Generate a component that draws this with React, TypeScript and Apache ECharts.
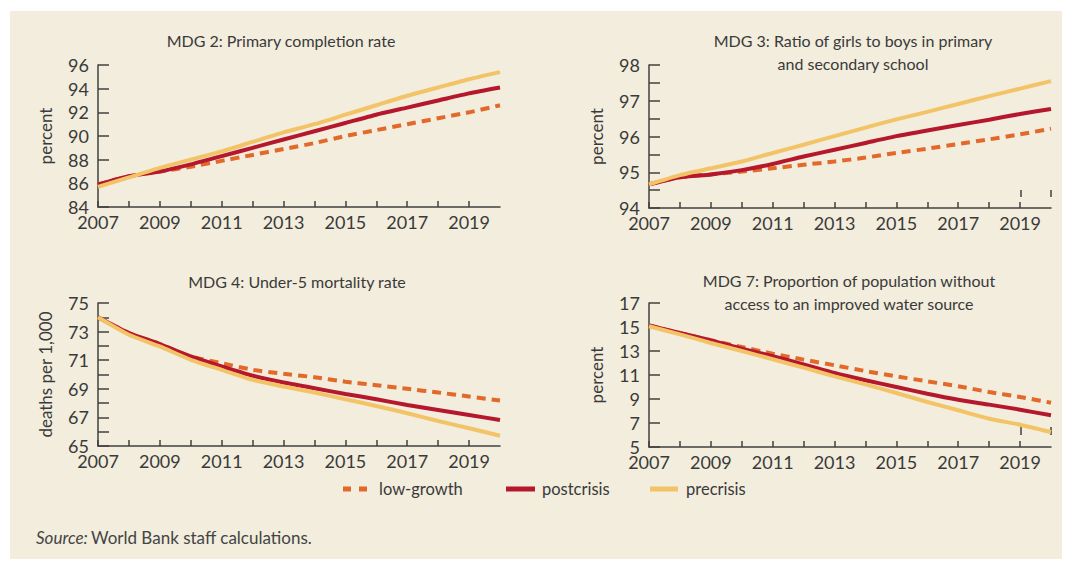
import React, { useEffect, useRef } from "react";
import * as echarts from "echarts";

const years = [2007, 2008, 2009, 2010, 2011, 2012, 2013, 2014, 2015, 2016, 2017, 2018, 2019, 2020];

const seriesNames = ["low-growth", "postcrisis", "precrisis"];

// MDG 2: Primary completion rate (percent)
const mdg2Low = [85.9, 86.6, 87.0, 87.4, 87.9, 88.4, 88.9, 89.4, 90.0, 90.5, 91.0, 91.5, 92.0, 92.6];
const mdg2Post = [85.9, 86.6, 87.0, 87.6, 88.3, 89.0, 89.7, 90.4, 91.1, 91.8, 92.4, 93.0, 93.6, 94.1];
const mdg2Pre = [85.7, 86.5, 87.3, 88.0, 88.7, 89.5, 90.3, 91.0, 91.8, 92.6, 93.4, 94.1, 94.8, 95.4];

// MDG 3: Ratio of girls to boys (percent)
const mdg3Low = [94.66, 94.86, 94.94, 95.02, 95.11, 95.21, 95.3, 95.41, 95.54, 95.66, 95.79, 95.92, 96.06, 96.22];
const mdg3Post = [94.66, 94.86, 94.94, 95.06, 95.23, 95.44, 95.63, 95.82, 96.01, 96.17, 96.32, 96.47, 96.63, 96.77];
const mdg3Pre = [94.66, 94.92, 95.11, 95.3, 95.54, 95.77, 96.01, 96.25, 96.48, 96.69, 96.91, 97.13, 97.34, 97.55];

// MDG 4: Under-5 mortality rate (deaths per 1,000)
const mdg4Low = [74.0, 72.9, 72.13, 71.26, 70.79, 70.33, 70.05, 69.81, 69.5, 69.25, 69.0, 68.74, 68.46, 68.18];
const mdg4Post = [74.0, 72.9, 72.13, 71.26, 70.56, 69.91, 69.44, 69.04, 68.64, 68.27, 67.87, 67.52, 67.17, 66.82];
const mdg4Pre = [74.0, 72.78, 71.96, 71.03, 70.33, 69.63, 69.16, 68.74, 68.27, 67.8, 67.29, 66.75, 66.24, 65.72];

// MDG 7: Population without improved water source (percent)
const mdg7Low = [15.14, 14.5, 13.89, 13.33, 12.78, 12.28, 11.81, 11.33, 10.89, 10.47, 10.06, 9.58, 9.17, 8.69];
const mdg7Post = [15.14, 14.5, 13.89, 13.19, 12.56, 11.89, 11.17, 10.56, 10.0, 9.44, 8.94, 8.53, 8.11, 7.64];
const mdg7Pre = [15.06, 14.39, 13.67, 13.0, 12.31, 11.61, 10.89, 10.22, 9.5, 8.75, 8.06, 7.36, 6.86, 6.25];

const panelTitles = [
  "MDG 2: Primary completion rate",
  "MDG 3: Ratio of girls to boys in primary\nand secondary school",
  "MDG 4: Under-5 mortality rate",
  "MDG 7: Proportion of population without\naccess to an improved water source",
];
const yNames = ["percent", "percent", "deaths per 1,000", "percent"];
const yMin = [84, 94, 65, 5];
const yMax = [96, 98, 75, 17];
const yInterval = [2, 0.5, 1, 2];

const panelData = [
  [mdg2Low, mdg2Post, mdg2Pre],
  [mdg3Low, mdg3Post, mdg3Pre],
  [mdg4Low, mdg4Post, mdg4Pre],
  [mdg7Low, mdg7Post, mdg7Pre],
];

const sourceNote = "World Bank staff calculations.";

const COLORS = ["#e2692a", "#b5182c", "#f3c467"];
const TEXT = "#3a3a3a";
const AXIS = "#404040";
const FONT = "Lato";

export default function App() {
  const ref = useRef<HTMLDivElement>(null);
  useEffect(() => {
    const chart = echarts.init(ref.current!, null, { renderer: "svg" });

    const grids = [
      { left: 98, top: 65, width: 402, height: 142 },
      { left: 649, top: 65, width: 402, height: 143 },
      { left: 98, top: 303, width: 402, height: 143 },
      { left: 649, top: 303, width: 402, height: 144 },
    ];
    const titlePos = [
      { x: 281, top: 29 },
      { x: 853, top: 28.5 },
      { x: 297, top: 269.5 },
      { x: 849, top: 268.5 },
    ];

    const xAxes = grids.map((_, i) => ({
      type: "value",
      gridIndex: i,
      min: 2007,
      max: 2020,
      interval: 1,
      axisLine: { lineStyle: { color: AXIS, width: 1.5 } },
      axisTick: { inside: true, length: 6, lineStyle: { color: AXIS, width: 1.5 } },
      splitLine: { show: false },
      axisLabel: {
        color: TEXT,
        fontFamily: FONT,
        fontSize: 18,
        lineHeight: 14,
        margin: 8,
        formatter: (v: number) => (v % 2 === 1 ? String(v) : ""),
        showMaxLabel: false,
      },
    }));

    const yAxes = grids.map((_, i) => ({
      type: "value",
      gridIndex: i,
      min: yMin[i],
      max: yMax[i],
      interval: yInterval[i],
      name: yNames[i],
      nameLocation: "middle",
      nameGap: 44,
      nameTextStyle: { color: TEXT, fontFamily: FONT, fontSize: 17 },
      axisLine: { show: true, lineStyle: { color: AXIS, width: 1.5 } },
      axisTick: { show: true, inside: true, length: 11, lineStyle: { color: AXIS, width: 1.5 } },
      splitLine: { show: false },
      axisLabel: {
        color: TEXT,
        fontFamily: FONT,
        fontSize: 18,
        lineHeight: 12,
        margin: 9,
        padding: [0, 0, 6, 0],
        formatter: (v: number) => {
          if (i === 1) return Number.isInteger(v) ? String(v) : "";
          if (i === 2) return Math.round(v) % 2 === 1 ? String(Math.round(v)) : "";
          return String(v);
        },
      },
    }));

    const series: any[] = [];
    panelData.forEach((sets, p) => {
      sets.forEach((vals, s) => {
        series.push({
          type: "line",
          name: seriesNames[s],
          xAxisIndex: p,
          yAxisIndex: p,
          data: years.map((y, k) => [y, vals[k]]),
          symbol: "none",
          smooth: 0.2,
          lineStyle: {
            color: COLORS[s],
            width: 4,
            type: s === 0 ? [9, 6] : "solid",
            cap: "butt",
          },
          z: 2 + s,
        });
      });
    });

    const legendItems = [
      { x1: 343, x2: 367, tx: 379, dash: [8, 8] },
      { x1: 506, x2: 535, tx: 542, dash: null },
      { x1: 650, x2: 678, tx: 686, dash: null },
    ];
    const legendY = 489;

    const graphic: any[] = [
      {
        type: "rect",
        shape: { x: 10, y: 11, width: 1052, height: 548 },
        style: { fill: "#f2eddc" },
        z: -10,
        silent: true,
      },
    ];
    legendItems.forEach((it, s) => {
      graphic.push({
        type: "line",
        shape: { x1: it.x1, y1: legendY, x2: it.x2, y2: legendY },
        style: { stroke: COLORS[s], lineWidth: 5, lineDash: it.dash || undefined },
      });
      graphic.push({
        type: "text",
        x: it.tx,
        y: legendY,
        style: {
          text: seriesNames[s],
          fill: TEXT,
          font: `16.5px ${FONT}`,
          verticalAlign: "middle",
        },
      });
    });
    graphic.push({
      type: "text",
      x: 36,
      y: 537,
      style: { text: "Source:", fill: "#444", font: `italic 17px ${FONT}`, verticalAlign: "middle" },
    });
    graphic.push({
      type: "text",
      x: 91,
      y: 537,
      style: { text: sourceNote, fill: "#444", font: `17px ${FONT}`, verticalAlign: "middle" },
    });
    // stray tick marks present in the original artwork
    [
      [1021, 190, 197],
      [1051, 190, 197],
      [1021, 427, 435],
      [1051, 427, 435],
    ].forEach(([x, y1, y2]) => {
      graphic.push({
        type: "line",
        shape: { x1: x, y1, x2: x, y2 },
        style: { stroke: AXIS, lineWidth: 1.5 },
      });
    });

    chart.setOption({
      animation: false,
      backgroundColor: "#ffffff",
      title: panelTitles.map((t, i) => ({
        text: t,
        left: titlePos[i].x,
        top: titlePos[i].top,
        textAlign: "center",
        padding: 0,
        textStyle: {
          color: TEXT,
          fontFamily: FONT,
          fontSize: 16,
          fontWeight: "normal",
          lineHeight: 23,
          align: "center",
        },
      })),
      grid: grids,
      xAxis: xAxes,
      yAxis: yAxes,
      series,
      graphic,
    });

    return () => chart.dispose();
  }, []);

  return (
    <div
      ref={ref}
      style={{ position: "absolute", left: 0, top: 0, width: 1071, height: 561 }}
    />
  );
}
